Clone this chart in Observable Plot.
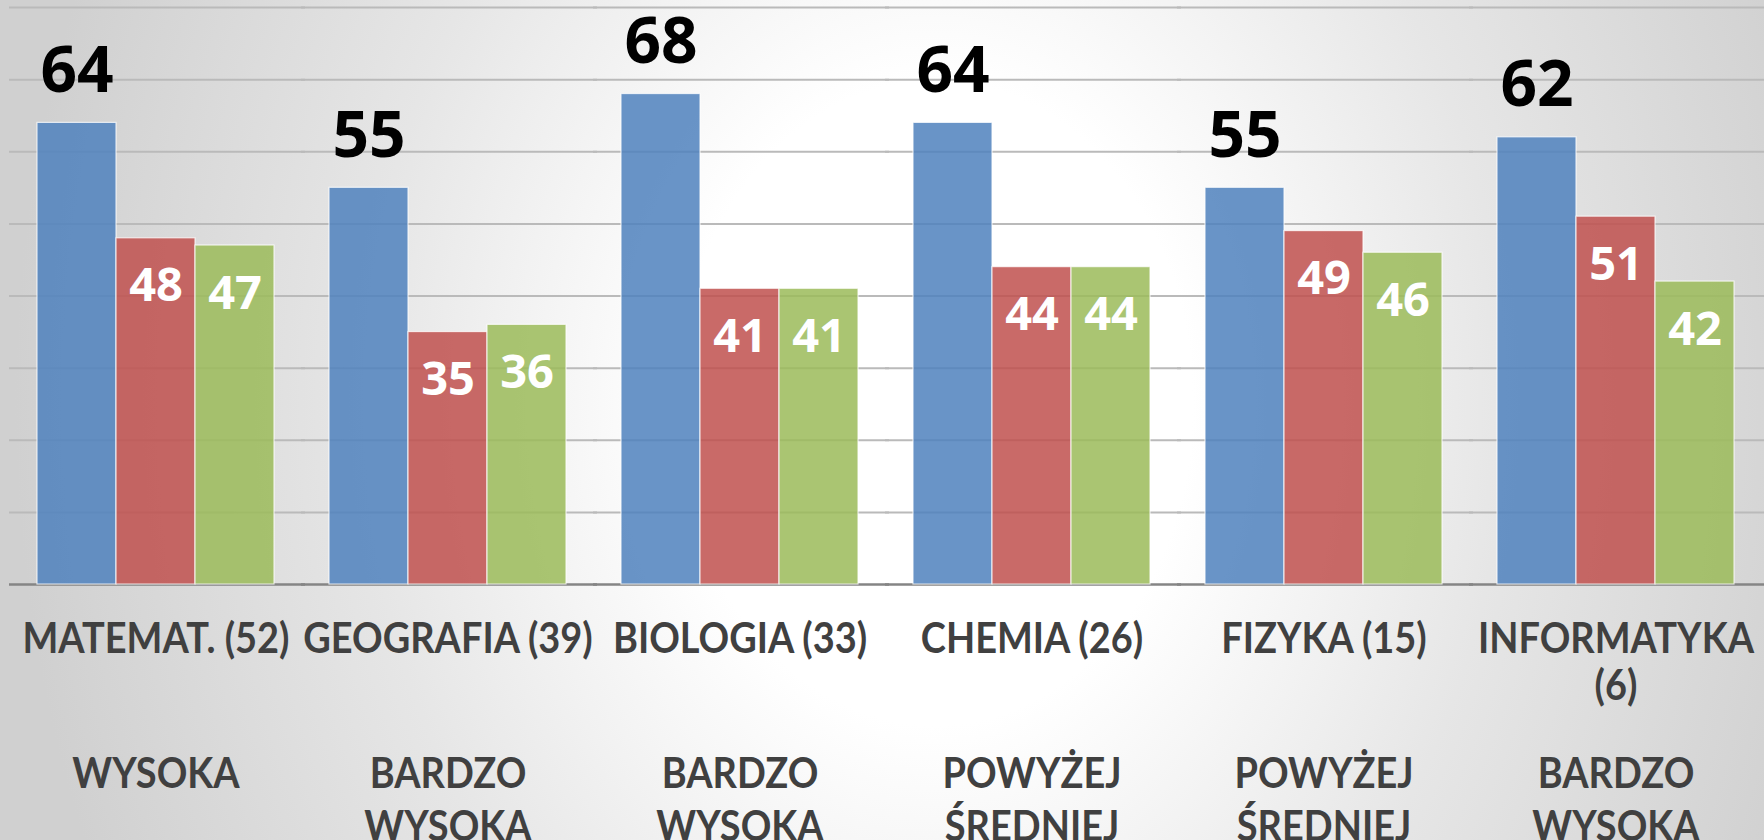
<!DOCTYPE html>
<html>
<head>
<meta charset="utf-8">
<script src="https://cdn.jsdelivr.net/npm/d3@7"></script>
<script src="https://cdn.jsdelivr.net/npm/@observablehq/plot@0.6"></script>
<style>
  html, body { margin: 0; padding: 0; width: 1764px; height: 840px; overflow: hidden; }
  body {
    background: radial-gradient(ellipse 920px 1150px at 53% 48%, #ffffff 0%, #ffffff 28%, #e6e6e6 62%, #d0d0d0 100%);
  }
  #chart svg { display: block; }
</style>
</head>
<body>
<div id="chart"></div>
<script>
// ---- data ----
const subjects = ["MATEMAT. (52)", "GEOGRAFIA (39)", "BIOLOGIA (33)", "CHEMIA (26)", "FIZYKA (15)", "INFORMATYKA\n(6)"];
const levels = ["WYSOKA", "BARDZO\nWYSOKA", "BARDZO\nWYSOKA", "POWYŻEJ\nŚREDNIEJ", "POWYŻEJ\nŚREDNIEJ", "BARDZO\nWYSOKA"];
const seriesNames = ["szkoła", "powiat", "województwo"];
const seriesSchool = [64, 55, 68, 64, 55, 62];
const seriesCounty = [48, 35, 41, 44, 49, 51];
const seriesRegion = [47, 36, 41, 44, 46, 42];
const seriesColors = ["#4F81BD", "#C0504D", "#9BBB59"];
const gridTicks = [10, 20, 30, 40, 50, 60, 70, 80];

// ---- table built from arrays ----
const seriesValues = [seriesSchool, seriesCounty, seriesRegion];
const rows = [];
subjects.forEach((s, i) => {
  seriesNames.forEach((n, j) => rows.push({subject: s, series: n, value: seriesValues[j][i]}));
});
const levelOf = new Map(subjects.map((s, i) => [s, levels[i]]));
const first = rows.filter(d => d.series === seriesNames[0]);
const others = rows.filter(d => d.series !== seriesNames[0]);

const labelFont = "Lato, 'Open Sans', sans-serif";
const numFont = "'Open Sans', 'Liberation Sans', sans-serif";

const chart = Plot.plot({
  width: 1764,
  height: 840,
  marginTop: 7,
  marginBottom: 256,
  marginLeft: 8,
  marginRight: 1,
  style: {background: "transparent", overflow: "visible"},
  fx: {domain: subjects, paddingInner: 0.18, paddingOuter: 0.09, axis: null, label: null},
  x: {domain: seriesNames, padding: 0, axis: null},
  y: {domain: [0, 80], axis: null},
  color: {domain: seriesNames, range: seriesColors},
  marks: [
    Plot.ruleY(gridTicks, {stroke: "#bababa", strokeWidth: 2, insetLeft: -27, insetRight: -30}),
    Plot.ruleY([0], {stroke: "#858585", strokeWidth: 2.5, insetLeft: -27, insetRight: -30}),
    Plot.barY(rows, {
      fx: "subject", x: "series", y: "value", fill: "series",
      fillOpacity: 0.85, stroke: "#ffffff", strokeWidth: 1.2, strokeOpacity: 0.75
    }),
    Plot.text(first, {
      fx: "subject", x: "series", y: "value", text: d => String(d.value),
      lineAnchor: "bottom", dy: -31, fontSize: 64, fontWeight: "bold",
      fontFamily: numFont, fill: "#000000"
    }),
    Plot.text(others, {
      fx: "subject", x: "series", y: "value", text: d => String(d.value),
      lineAnchor: "bottom", dy: 63, fontSize: 47, fontWeight: "bold",
      fontFamily: numFont, fill: "#ffffff"
    }),
    Plot.axisFx({
      anchor: "bottom", tickSize: 0, tickPadding: 36, label: null,
      fontSize: 42, fontWeight: "bold", fontFamily: labelFont, lineHeight: 1.1,
      color: "#404040"
    }),
    Plot.axisFx({
      anchor: "bottom", tickSize: 0, tickPadding: 167, label: null,
      tickFormat: d => levelOf.get(d),
      fontSize: 42, fontWeight: "bold", fontFamily: labelFont, lineHeight: 1.24,
      color: "#404040"
    })
  ]
});
document.getElementById("chart").appendChild(chart);

// Narrow the category labels horizontally (the reference uses a condensed face)
const axisTexts = chart.querySelectorAll('g[aria-label="fx-axis tick label"] text');
let factor = 0.9;
axisTexts.forEach(t => {
  if (t.textContent === subjects[0]) {
    const w = t.getComputedTextLength();
    if (w > 0) factor = 267 / w;
  }
});
axisTexts.forEach(t => {
  const spans = t.querySelectorAll("tspan");
  const parts = spans.length ? Array.from(spans) : [t];
  parts.forEach(p => {
    const w = p.getComputedTextLength();
    if (w > 0) {
      p.setAttribute("textLength", (w * factor).toFixed(1));
      p.setAttribute("lengthAdjust", "spacingAndGlyphs");
    }
  });
});
</script>
</body>
</html>
